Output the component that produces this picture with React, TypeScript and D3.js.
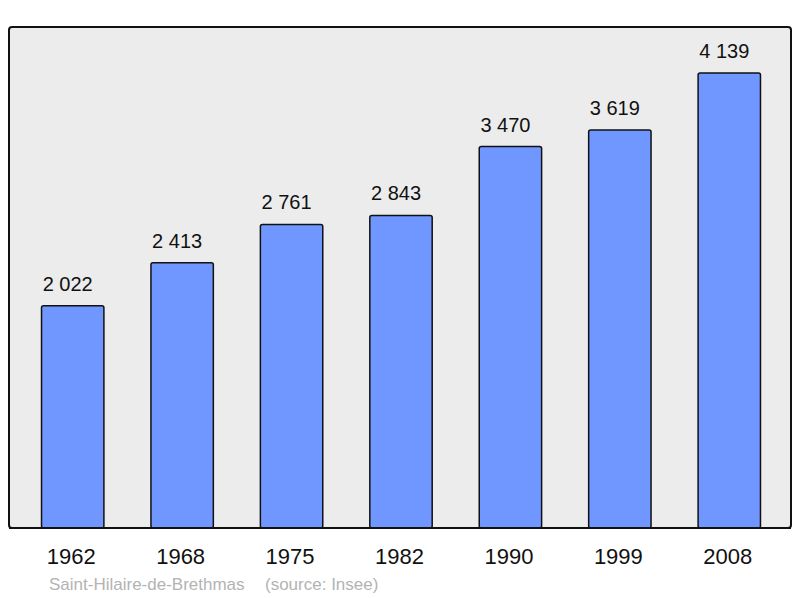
import { useEffect, useRef } from 'react';
import * as d3 from 'd3';

const years = ['1962', '1968', '1975', '1982', '1990', '1999', '2008'];
const population = [2022, 2413, 2761, 2843, 3470, 3619, 4139];
const townName = 'Saint-Hilaire-de-Brethmas';
const sourceNote = '(source: Insee)';

const fmt = (v: number) => d3.format(',')(v).replace(/,/g, '\u00a0');

export default function App() {
  const svgRef = useRef<SVGSVGElement>(null);

  useEffect(() => {
    const svg = d3.select(svgRef.current);
    svg.selectAll('*').remove();

    const frame = { left: 9, top: 27, right: 791, bottom: 528 };

    // background panel
    svg.append('rect')
      .attr('x', frame.left)
      .attr('y', frame.top)
      .attr('width', frame.right - frame.left)
      .attr('height', frame.bottom - frame.top)
      .attr('rx', 3)
      .attr('fill', '#ececec')
      .attr('stroke', '#111')
      .attr('stroke-width', 2);

    const x = d3.scaleBand<string>()
      .domain(years)
      .range([18, 784])
      .paddingInner(0.43)
      .paddingOuter(0.215);

    const y = d3.scaleLinear()
      .domain([0, 4557])
      .range([frame.bottom, frame.top]);

    const data = years.map((yr, i) => ({ yr, v: population[i] }));

    svg.selectAll('.bar')
      .data(data)
      .enter()
      .append('rect')
      .attr('class', 'bar')
      .attr('x', d => x(d.yr)!)
      .attr('y', d => y(d.v))
      .attr('width', x.bandwidth())
      .attr('height', d => y(0) - y(d.v))
      .attr('rx', 2)
      .attr('fill', '#7097ff')
      .attr('stroke', '#111')
      .attr('stroke-width', 1.5);

    // value labels sit a little left of the bar centre, as in the source
    svg.selectAll('.label')
      .data(data)
      .enter()
      .append('text')
      .attr('class', 'label')
      .attr('x', d => x(d.yr)! + x.bandwidth() / 2 - 5)
      .attr('y', d => y(d.v) - 15)
      .attr('text-anchor', 'middle')
      .style('font-size', '20px')
      .attr('fill', '#111')
      .text(d => fmt(d.v));

    // redraw bottom edge over bars
    svg.append('line')
      .attr('x1', frame.left)
      .attr('x2', frame.right)
      .attr('y1', frame.bottom)
      .attr('y2', frame.bottom)
      .attr('stroke', '#111')
      .attr('stroke-width', 2);

    svg.selectAll('.year')
      .data(years)
      .enter()
      .append('text')
      .attr('class', 'year')
      .attr('x', d => x(d)! + x.bandwidth() / 2 - 1.5)
      .attr('y', 564)
      .attr('text-anchor', 'middle')
      .style('font-size', '22px')
      .attr('fill', '#111')
      .text(d => d);

    svg.append('text')
      .attr('x', 49)
      .attr('y', 590)
      .style('font-size', '17px')
      .attr('fill', '#b3b3b3')
      .text(townName);

    svg.append('text')
      .attr('x', 265)
      .attr('y', 590)
      .style('font-size', '17px')
      .attr('fill', '#b3b3b3')
      .text(sourceNote);
  }, []);

  return (
    <svg
      ref={svgRef}
      width={800}
      height={598}
      style={{ position: 'absolute', left: 0, top: 0, fontFamily: '"Liberation Sans", Arial, sans-serif', background: '#fff' }}
    />
  );
}
